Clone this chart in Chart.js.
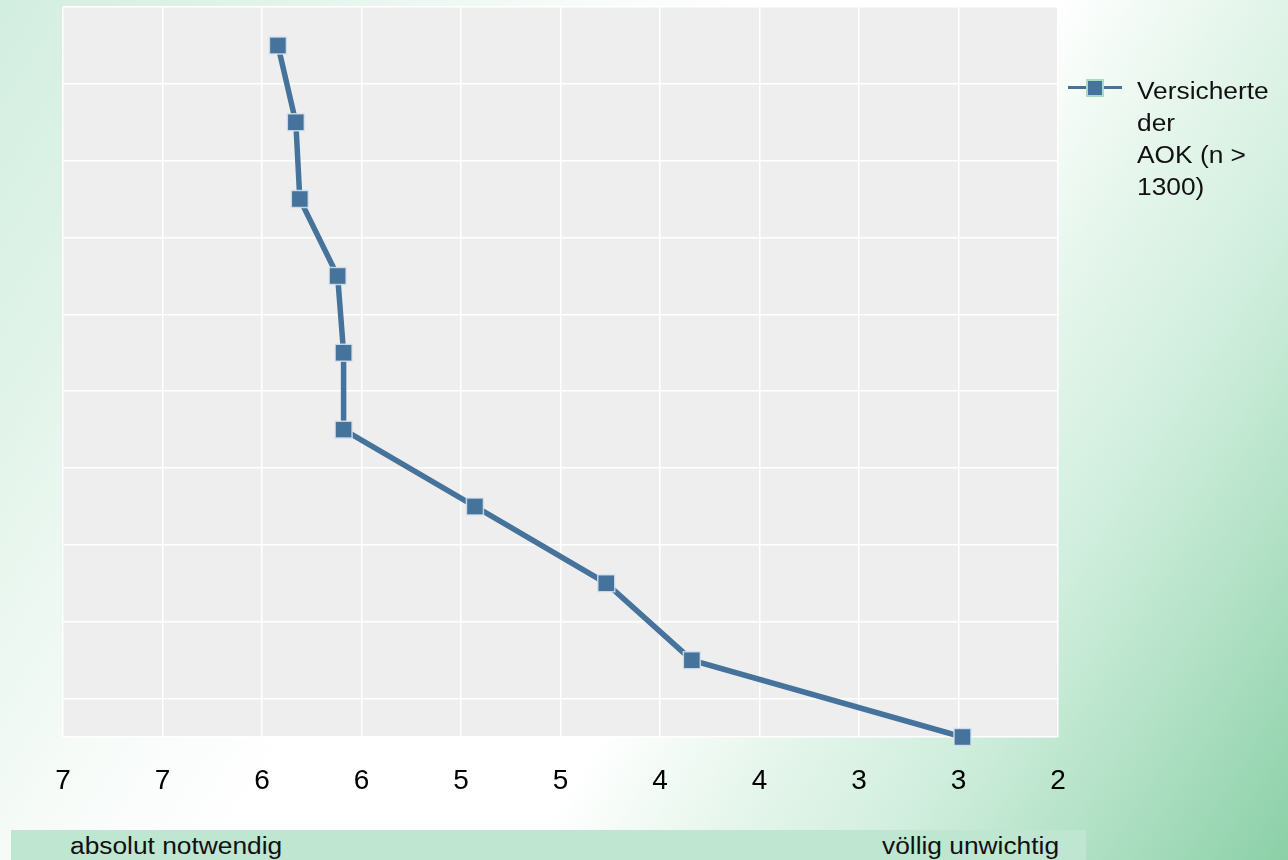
<!DOCTYPE html>
<html lang="de">
<head>
<meta charset="utf-8">
<title>Versicherte der AOK</title>
<script src="https://cdn.jsdelivr.net/npm/chart.js@4.4.1/dist/chart.umd.min.js"></script>
<style>
  html, body { margin: 0; padding: 0; }
  body {
    width: 1288px;
    height: 860px;
    overflow: hidden;
    position: relative;
    font-family: 'Liberation Sans', Arial, sans-serif;
    color: #111;
    background: linear-gradient(122deg, #d2eee0 0%, #e2f4ea 15%, #f6fbf8 30%, #ffffff 42%, #ffffff 58%, #e6f6ec 68%, #d0eedd 78%, #b2e1c6 88%, #8bd0a7 100%);
  }
  #chart { position: absolute; left: 0; top: 0; }
  .key-line { position: absolute; left: 1068px; top: 85.5px; width: 54px; height: 3.5px; background: #45739b; }
  .key-box {
    position: absolute; left: 1086px; top: 79px; width: 18px; height: 18px;
    box-sizing: border-box; border: 2px solid #a9dbc0; background: #45739b;
  }
  .legend-text {
    position: absolute; left: 1137px; top: 75px;
    font-size: 23.5px; line-height: 32px;
    transform: scaleX(1.12); transform-origin: left top;
    white-space: nowrap;
  }
  .band {
    position: absolute; left: 11px; top: 830px; width: 1075px; height: 40px;
    background: #bee6d0;
  }
  .band span {
    position: absolute; top: 5px;
    font-size: 23.5px; line-height: 23.5px;
    white-space: nowrap;
  }
  .band .left { left: 59px; transform: scaleX(1.12); transform-origin: left top; }
  .band .right { right: 27px; transform: scaleX(1.12); transform-origin: right top; }
</style>
</head>
<body>
<canvas id="chart" width="1288" height="860"></canvas>

<div class="key-line"></div>
<div class="key-box"></div>
<div class="legend-text">Versicherte<br>der<br>AOK (n &gt;<br>1300)</div>

<div class="band">
  <span class="left">absolut notwendig</span>
  <span class="right">völlig unwichtig</span>
</div>

<script>
  // one row per item, top to bottom
  const rowIndex = [0, 1, 2, 3, 4, 5, 6, 7, 8, 9];
  const meanScores = [5.92, 5.83, 5.81, 5.62, 5.59, 5.59, 4.93, 4.27, 3.84, 2.48];
  const seriesLabel = 'Versicherte der AOK (n > 1300)';

  // x axis runs from 7 down to 2, labels are rounded in the original
  const xTickValues = [7, 6.5, 6, 5.5, 5, 4.5, 4, 3.5, 3, 2.5, 2];
  const xTickLabels = ['7', '7', '6', '6', '5', '5', '4', '4', '3', '3', '2'];

  // horizontal grid lines sit between the rows
  const yGridValues = [-0.5, 0.5, 1.5, 2.5, 3.5, 4.5, 5.5, 6.5, 7.5, 8.5, 9];

  const LINE_COLOR = '#45739b';

  const plotBackground = {
    id: 'plotBackground',
    beforeDraw(chart) {
      const { ctx, chartArea: area } = chart;
      ctx.save();
      ctx.fillStyle = '#eeeeee';
      ctx.fillRect(area.left, area.top, area.right - area.left, area.bottom - area.top);
      ctx.restore();
    },
  };

  Chart.defaults.font.family = "'Liberation Sans', Arial, sans-serif";

  new Chart(document.getElementById('chart').getContext('2d'), {
    type: 'scatter',
    data: {
      datasets: [
        {
          label: seriesLabel,
          data: rowIndex.map((row, i) => ({ x: meanScores[i], y: row })),
          showLine: true,
          borderColor: LINE_COLOR,
          borderWidth: 5.5,
          pointStyle: 'rect',
          pointRadius: 12,
          pointHoverRadius: 12,
          pointBackgroundColor: LINE_COLOR,
          pointBorderColor: 'rgba(215,228,240,0.85)',
          pointBorderWidth: 1.5,
          clip: false,
        },
      ],
    },
    options: {
      responsive: false,
      animation: false,
      layout: { autoPadding: false, padding: { left: 63, right: 230, top: 7, bottom: 0 } },
      plugins: {
        legend: { display: false },
        tooltip: { enabled: false },
      },
      scales: {
        x: {
          type: 'linear',
          reverse: true,
          min: 2,
          max: 7,
          afterFit: (scale) => {
            scale.height = 123;
            scale.paddingLeft = 0;
            scale.paddingRight = 0;
          },
          border: { display: false },
          grid: { color: '#ffffff', lineWidth: 1.5, drawTicks: false },
          ticks: {
            stepSize: 0.5,
            autoSkip: false,
            maxRotation: 0,
            padding: 27,
            color: '#000000',
            font: { size: 28 },
            callback: (value) => xTickLabels[xTickValues.indexOf(value)],
          },
        },
        y: {
          type: 'linear',
          reverse: true,
          min: -0.5,
          max: 9,
          afterBuildTicks: (scale) => { scale.ticks = yGridValues.map((v) => ({ value: v })); },
          afterFit: (scale) => {
            scale.width = 0;
            scale.paddingTop = 0;
            scale.paddingBottom = 0;
          },
          border: { display: false },
          grid: { color: '#ffffff', lineWidth: 1.5, drawTicks: false },
          ticks: { display: false },
        },
      },
    },
    plugins: [plotBackground],
  });
</script>
</body>
</html>
